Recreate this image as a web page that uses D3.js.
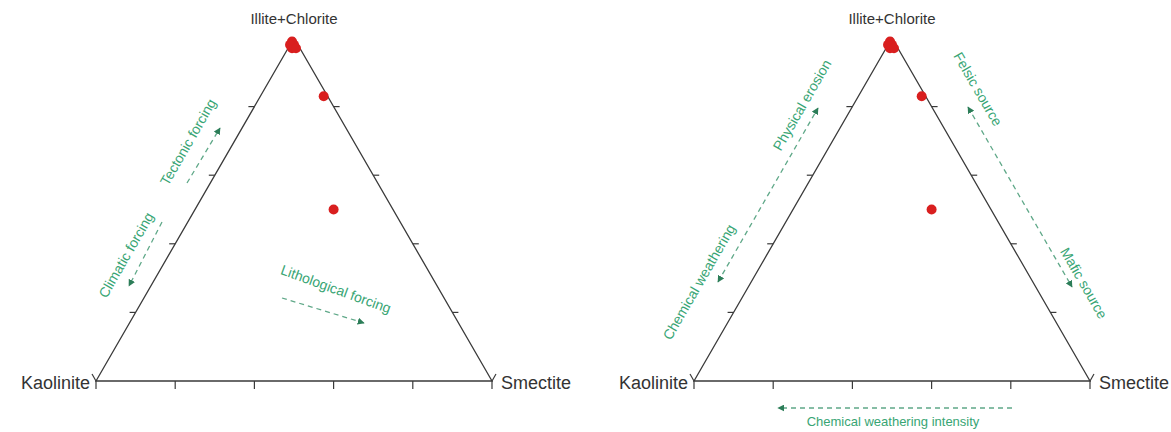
<!DOCTYPE html>
<html>
<head>
<meta charset="utf-8">
<script src="https://cdn.jsdelivr.net/npm/d3@7"></script>
<style>
  html, body { margin: 0; padding: 0; background: #ffffff; }
  svg { display: block; }
</style>
</head>
<body>
<svg id="chart" width="1171" height="432"></svg>
<script>
// Clay mineral composition of the samples (%)
const illiteChlorite = [99, 98, 97, 98, 97, 83, 50];
const smectite       = [0, 1, 1, 0, 2, 16, 35];
const kaolinite      = [1, 1, 2, 2, 1, 1, 15];

// Axis ticks (%) and vertex names
const axisTicks = [0, 20, 40, 60, 80, 100];
const vertexLabels = ["Kaolinite", "Smectite", "Illite+Chlorite"];

// Interpretation notes
const forcingNotes = ["Tectonic forcing", "Climatic forcing", "Lithological forcing"];
const processNotes = ["Physical erosion", "Chemical weathering", "Felsic source", "Mafic source", "Chemical weathering intensity"];

const samples = illiteChlorite.map((ic, i) => ({ ic, sm: smectite[i], ka: kaolinite[i] }));

const svg = d3.select("#chart");
const FONT = "'Liberation Sans', Arial, sans-serif";
const LINE = "#3a3a3a";
const NOTE = "#38a574";
const DASH = "#5fa888";
const HEAD = "#2c7d58";

// arrowhead marker
const defs = svg.append("defs");
defs.append("marker")
  .attr("id", "head")
  .attr("viewBox", "0 0 10 10")
  .attr("refX", 9).attr("refY", 5)
  .attr("markerWidth", 7).attr("markerHeight", 7)
  .attr("markerUnits", "userSpaceOnUse")
  .attr("orient", "auto-start-reverse")
  .append("path")
  .attr("d", "M0,0 L10,5 L0,10 z")
  .attr("fill", HEAD);

const side = 396;
const height = 343;
const baseY = 381;

function makePanel(originX) {
  const g = svg.append("g");
  const x = d3.scaleLinear().domain([0, 100]).range([originX, originX + side]);
  const y = d3.scaleLinear().domain([0, 100]).range([baseY, baseY - height]);
  const proj = (ic, sm) => [x(sm + ic / 2), y(ic)];

  const K = proj(0, 0), S = proj(0, 100), A = proj(100, 0);

  // frame
  g.append("path")
    .attr("d", d3.line()([K, S, A, K]) + "Z")
    .attr("fill", "none")
    .attr("stroke", LINE)
    .attr("stroke-width", 1.3)
    .attr("stroke-linejoin", "miter");

  // base ticks (smectite axis), pointing down
  g.selectAll(".tb").data(axisTicks).join("line")
    .attr("x1", d => x(d)).attr("x2", d => x(d))
    .attr("y1", baseY).attr("y2", baseY + 8)
    .attr("stroke", LINE).attr("stroke-width", 1.2);

  // left edge ticks (Kaolinite - Illite), pointing left
  g.selectAll(".tl").data(axisTicks.filter(d => d > 0 && d < 100)).join("line")
    .attr("x1", d => proj(d, 0)[0]).attr("x2", d => proj(d, 0)[0] - 6)
    .attr("y1", d => proj(d, 0)[1]).attr("y2", d => proj(d, 0)[1])
    .attr("stroke", LINE).attr("stroke-width", 1.2);

  // right edge ticks (Smectite - Illite), pointing right
  g.selectAll(".tr").data(axisTicks.filter(d => d > 0 && d < 100)).join("line")
    .attr("x1", d => proj(d, 100 - d)[0]).attr("x2", d => proj(d, 100 - d)[0] + 6)
    .attr("y1", d => proj(d, 100 - d)[1]).attr("y2", d => proj(d, 100 - d)[1])
    .attr("stroke", LINE).attr("stroke-width", 1.2);

  // corner arms
  g.append("line").attr("x1", K[0]).attr("y1", K[1]).attr("x2", K[0] - 4).attr("y2", K[1] - 7)
    .attr("stroke", LINE).attr("stroke-width", 1.2);
  g.append("line").attr("x1", S[0]).attr("y1", S[1]).attr("x2", S[0] + 4).attr("y2", S[1] - 7)
    .attr("stroke", LINE).attr("stroke-width", 1.2);

  // vertex labels
  const lab = (t, px, py, anchor, size) => g.append("text")
    .attr("x", px).attr("y", py)
    .attr("text-anchor", anchor)
    .attr("font-family", FONT).attr("font-size", size)
    .attr("fill", "#333")
    .text(t);
  lab(vertexLabels[0], K[0] - 6, baseY + 8, "end", 18);
  lab(vertexLabels[1], S[0] + 9, baseY + 8, "start", 18);
  lab(vertexLabels[2], A[0], A[1] - 14, "middle", 15);

  // samples
  g.selectAll(".pt").data(samples).join("circle")
    .attr("cx", d => proj(d.ic, d.sm)[0])
    .attr("cy", d => proj(d.ic, d.sm)[1])
    .attr("r", 5)
    .attr("fill", "#d91f1f");

  return { g, origin: [originX, baseY] };
}

function note(panel, text, dx, dy, angle, size) {
  const [ox, oy] = panel.origin;
  panel.g.append("text")
    .attr("transform", `translate(${ox + dx},${oy + dy}) rotate(${angle})`)
    .attr("text-anchor", "middle")
    .attr("dominant-baseline", "central")
    .attr("font-family", FONT)
    .attr("font-size", size || 14)
    .attr("fill", NOTE)
    .text(text);
}

function arrow(panel, from, to, both) {
  const [ox, oy] = panel.origin;
  const l = panel.g.append("line")
    .attr("x1", ox + from[0]).attr("y1", oy + from[1])
    .attr("x2", ox + to[0]).attr("y2", oy + to[1])
    .attr("stroke", DASH)
    .attr("stroke-width", 1.3)
    .attr("stroke-dasharray", "5,4")
    .attr("marker-end", "url(#head)");
  if (both) l.attr("marker-start", "url(#head)");
}

const left = makePanel(96);
const right = makePanel(694);

// forcing panel
note(left, forcingNotes[0], 92, -239, -60);
arrow(left, [91, -198], [124, -253]);
note(left, forcingNotes[1], 30, -126, -60);
arrow(left, [66, -159], [33, -95]);
note(left, forcingNotes[2], 240, -92, 20);
arrow(left, [186, -83], [268, -58]);

// process panel
note(right, processNotes[0], 108, -276, -60);
note(right, processNotes[1], 5, -99, -60);
arrow(right, [24, -99], [124, -273], true);
note(right, processNotes[2], 284, -292, 60);
note(right, processNotes[3], 390, -98, 60);
arrow(right, [274, -274], [378, -94], true);
arrow(right, [318, 27], [84, 27]);
note(right, processNotes[4], 199, 40, 0, 13);
</script>
</body>
</html>
